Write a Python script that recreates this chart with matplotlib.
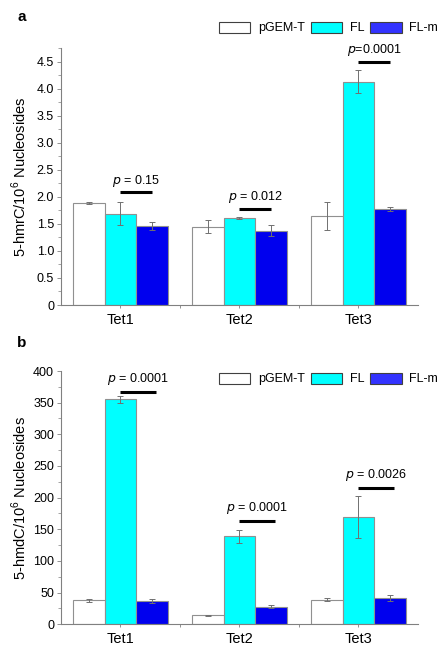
import matplotlib
matplotlib.use("Agg")
import matplotlib.pyplot as plt
import numpy as np
from matplotlib.patches import Patch
from matplotlib.ticker import MultipleLocator, FixedLocator, FuncFormatter

plt.rcParams['font.family'] = ['Liberation Sans', 'DejaVu Sans']

categories = ["Tet1", "Tet2", "Tet3"]
series = ["pGEM-T", "FL", "FL-m"]

# Panel a: 5-hmrC
a_pgem = [1.89, 1.45, 1.64]
a_pgem_err = [0.02, 0.12, 0.26]
a_fl = [1.69, 1.61, 4.13]
a_fl_err = [0.21, 0.02, 0.22]
a_flm = [1.46, 1.37, 1.77]
a_flm_err = [0.07, 0.10, 0.04]
a_pvals = ["$p$ = 0.15", "$p$ = 0.012", "$p$=0.0001"]
a_sig_y = [2.08, 1.77, 4.49]

# Panel b: 5-hmdC
b_pgem = [38, 14, 39]
b_pgem_err = [2, 1, 2]
b_fl = [355, 139, 169]
b_fl_err = [5, 10, 33]
b_flm = [37, 28, 42]
b_flm_err = [3, 3, 5]
b_pvals = ["$p$ = 0.0001", "$p$ = 0.0001", "$p$ = 0.0026"]
b_sig_y = [367, 163, 215]

face = ["white", "#00FFFF", "#0000EE"]
edges = ["#909090", "#909090", "#909090"]
legend_face = ["white", "#00FFFF", "#3333FF"]

fig = plt.figure(figsize=(4.39, 6.48), dpi=100)
W, H = 439, 648

def make_axes(left, top, right, bottom):
    return fig.add_axes([left / W, 1 - bottom / H, (right - left) / W, (bottom - top) / H])

ax_a = make_axes(61, 48, 418, 305)
ax_b = make_axes(61, 371, 418, 624.3)

bw = 0.267
offs = [-bw, 0, bw]

def draw(ax, vals, errs, pvals, sig_y, ymax, major, minor, ylabel, text_gap, sig_extra, tick_fmt):
    x = np.arange(len(categories))
    for i, (v, e) in enumerate(zip(vals, errs)):
        ax.bar(x + offs[i], v, width=bw, color=face[i], edgecolor=edges[i], linewidth=0.8, zorder=2)
        ax.errorbar(x + offs[i], v, yerr=e, fmt='none', ecolor='#707070', elinewidth=0.7,
                    capsize=2, capthick=0.7, zorder=3)
    for j in range(len(categories)):
        x0 = x[j] + offs[1]
        x1 = x[j] + offs[2] + sig_extra
        ax.plot([x0, x1], [sig_y[j], sig_y[j]], color='black', lw=2.2, solid_capstyle='butt', zorder=4)
        ax.text((x0 + x1) / 2, sig_y[j] + text_gap, pvals[j], ha='center', va='bottom', fontsize=9)
    ax.set_xlim(-0.5, 2.5)
    ax.set_ylim(0, ymax)
    ax.set_xticks(x)
    ax.set_xticklabels(categories, fontsize=10.5)
    ax.xaxis.set_minor_locator(FixedLocator([0.5, 1.5]))
    ax.yaxis.set_major_locator(MultipleLocator(major))
    ax.yaxis.set_minor_locator(MultipleLocator(minor))
    ax.yaxis.set_major_formatter(tick_fmt)
    ax.tick_params(axis='y', labelsize=9, length=3, width=0.6, color='#808080', pad=2)
    ax.tick_params(axis='y', which='minor', length=2, width=0.5, color='#808080')
    ax.tick_params(axis='x', which='both', length=2.5, width=0.6, color='#808080', pad=3)
    for s in ['top', 'right']:
        ax.spines[s].set_visible(False)
    for s in ['left', 'bottom']:
        ax.spines[s].set_color('#808080')
        ax.spines[s].set_linewidth(0.8)
    ax.set_ylabel(ylabel, fontsize=10.5, labelpad=4)

def fmt_a(v, pos):
    return "0" if abs(v) < 1e-9 else f"{v:.1f}"

def fmt_b(v, pos):
    return f"{int(round(v))}"

draw(ax_a, [a_pgem, a_fl, a_flm], [a_pgem_err, a_fl_err, a_flm_err], a_pvals, a_sig_y,
     4.75, 0.5, 0.25, "5-hmrC/10$^{\\mathregular{6}}$ Nucleosides", 0.07, 0.0, FuncFormatter(fmt_a))
ax_a.set_yticks(np.arange(0, 4.51, 0.5))
draw(ax_b, [b_pgem, b_fl, b_flm], [b_pgem_err, b_fl_err, b_flm_err], b_pvals, b_sig_y,
     400, 50, 25, "5-hmdC/10$^{\\mathregular{6}}$ Nucleosides", 8, 0.03, FuncFormatter(fmt_b))

handles = [Patch(facecolor=legend_face[i], edgecolor='#404040', linewidth=0.8, label=series[i]) for i in range(3)]
for yc in [28, 379]:
    fig.legend(handles=handles, loc='center right', bbox_to_anchor=(438 / W, 1 - yc / H),
               ncol=3, frameon=False, fontsize=9, handlelength=2.5, handleheight=1.0,
               handletextpad=0.6, columnspacing=0.5, borderpad=0, borderaxespad=0)

fig.text(22 / W, 1 - 17 / H, "a", fontsize=11, fontweight='bold', ha='center', va='center')
fig.text(22 / W, 1 - 343 / H, "b", fontsize=11, fontweight='bold', ha='center', va='center')
for ax in (ax_a, ax_b):
    ax.yaxis.set_label_coords(-0.09, 0.5)

fig.savefig("out.png", dpi=100)
